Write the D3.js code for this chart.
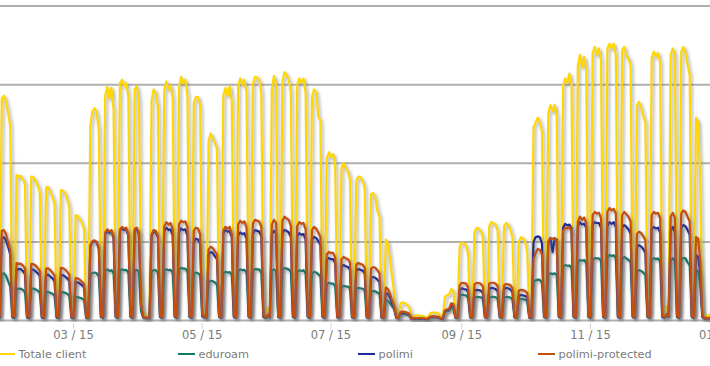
<!DOCTYPE html>
<html><head><meta charset="utf-8">
<script src="https://cdn.jsdelivr.net/npm/d3@7"></script>
<style>
html,body{margin:0;padding:0;background:#fff;}
svg{display:block;}
</style></head>
<body>
<svg id="chart" width="710" height="366"></svg>
<script>
// Daily values, one row per week (Mon..Sun), first Monday = 2015-01-19
const firstDay = "2015-01-19";
const seriesNames = ["Totale client", "eduroam", "polimi", "polimi-protected"];
const seriesColors = ["#FFD700", "#0C7B6C", "#1B2C9C", "#C4500E"];
const yTicks = [0, 5000, 10000, 15000, 20000];

const totale = [
14000,14300,14200,13600,12800,500,400,
14100,14300,13900,13200,12400,500,400,
9250,9150,9200,9000,8700,450,350,
9150,9100,8900,8600,8200,450,350,
8450,8500,8150,7900,7400,450,350,
8300,8250,8100,7700,7200,400,350,
6700,6650,6450,6200,5800,400,350,
12400,13300,13500,13200,12100,600,400,
14300,14850,14100,14800,13400,600,400,
15100,15300,14900,15100,14200,600,400,
14700,14900,14000,2500,600,400,300,
350,14000,14700,14400,13600,600,400,
14600,15200,14700,14950,14200,600,400,
14800,15500,15100,15300,14300,500,400,
13800,14200,14200,13700,800,400,350,
11400,11900,11600,11300,10900,500,400,
14300,14800,14300,14900,14000,600,400,
14900,15400,15000,15300,14500,600,400,
15000,15500,15450,15300,14500,600,400,
800,500,14700,15550,15000,600,400,
15200,15800,15600,15300,14500,600,400,
15000,15400,15100,15400,14500,600,400,
14200,14700,14500,13000,12700,500,400,
10300,10700,10400,10600,9900,500,350,
9700,10000,9700,9500,9000,500,350,
8900,9150,9100,8900,8400,450,350,
8050,8100,7800,7000,6600,400,300,
5150,4900,3900,2700,1700,400,300,
1100,1150,1100,1000,900,300,250,
320,330,300,290,260,200,200,
450,500,500,480,450,250,230,
1500,1600,1650,2000,1900,450,350,
4700,4950,4900,4800,4200,500,400,
5600,5880,5850,5700,5300,500,400,
6000,6250,6200,6100,5700,500,400,
6000,6200,6100,5800,5300,500,400,
5000,5300,5250,5000,4400,500,400,
12300,12600,12900,12600,12000,600,400,
13200,13700,13300,13700,13000,600,400,
14900,15400,15100,15700,15000,600,400,
16200,16900,16100,16750,16000,600,400,
17000,17400,16900,17300,16500,600,400,
17300,17600,17300,17600,16900,600,400,
17200,17400,16800,16700,16200,600,400,
13700,13900,13500,13000,12600,600,400,
16700,17100,16800,17000,16400,600,400,
900,700,16900,17300,16800,600,400,
17100,17400,17000,16300,15600,600,400,
12900,12600,9000,600,300,300,300,
450,500,450,350,250,200,200];

const eduroam = [
3000,3050,3000,2900,2700,200,150,
2950,3000,2850,2500,2150,200,150,
2050,2000,2030,1950,1800,180,140,
2050,2030,1980,1900,1780,180,140,
1800,1820,1760,1700,1580,180,140,
1820,1800,1760,1700,1580,170,130,
1500,1490,1450,1400,1300,170,130,
2900,3020,3050,3000,2800,220,150,
3150,3250,3150,3200,3000,220,150,
3200,3250,3200,3220,3050,220,150,
3200,3220,3100,600,180,150,130,
140,3100,3200,3200,3050,220,150,
3200,3250,3200,3220,3050,220,150,
3250,3350,3300,3300,3100,220,150,
2950,3050,3000,2900,250,180,150,
2450,2520,2500,2420,2300,220,150,
3000,3090,3050,3080,2900,220,150,
3150,3250,3200,3220,3050,220,150,
3150,3280,3250,3250,3050,220,150,
250,190,3150,3250,3150,220,150,
3200,3340,3300,3250,3100,220,150,
3100,3200,3150,3200,3000,220,150,
3000,3090,3050,2950,2800,220,150,
2300,2390,2350,2350,2200,200,150,
2130,2200,2170,2150,2050,200,150,
2000,2070,2050,2020,1920,200,150,
1820,1880,1850,1780,1700,180,140,
1300,1250,1100,900,700,160,130,
400,420,400,370,340,120,100,
110,110,100,100,90,80,80,
190,200,200,190,180,100,90,
550,600,620,800,780,180,140,
1550,1650,1620,1600,1450,200,160,
1450,1500,1490,1480,1380,200,160,
1450,1500,1500,1480,1380,200,160,
1450,1500,1490,1460,1350,200,160,
1330,1370,1360,1330,1250,190,150,
2450,2550,2600,2580,2400,220,150,
2900,3000,2950,3000,2900,220,150,
3400,3530,3480,3500,3350,220,150,
3700,3850,3800,3850,3650,220,150,
3850,3970,3950,3950,3800,220,150,
4000,4170,4100,4150,3950,220,150,
3900,4040,3950,3850,3700,220,150,
3100,3210,3150,3050,2900,220,150,
3850,3970,3900,3950,3750,220,150,
300,220,3800,3970,3750,220,150,
3850,3980,3950,3700,3500,220,150,
3200,3150,2300,220,120,120,120,
150,160,150,130,100,90,90];

const polimi = [
5300,5400,5300,5100,4800,250,200,
5250,5300,5100,4700,4200,250,200,
3300,3250,3280,3150,2950,230,180,
3250,3230,3150,3000,2850,230,180,
2900,2920,2800,2680,2500,230,180,
2900,2880,2800,2680,2500,220,170,
2450,2430,2350,2250,2100,220,170,
4750,5000,5050,4950,4550,260,190,
5500,5700,5550,5700,5200,260,190,
5700,5850,5750,5800,5400,260,190,
5700,5800,5500,950,220,180,150,
170,5400,5650,5600,5300,260,190,
5700,5900,5750,5800,5400,260,190,
5600,5850,5750,5800,5400,260,190,
5000,5200,5150,4900,350,220,180,
4200,4350,4300,4100,3900,260,190,
5550,5750,5650,5700,5300,260,190,
5400,5600,5500,5550,5200,260,190,
5500,5750,5700,5650,5350,260,190,
300,220,5500,5700,5550,260,190,
5550,5760,5700,5600,5300,260,190,
5350,5560,5450,5500,5150,260,190,
5150,5310,5250,5050,4800,260,190,
3850,3975,3900,3900,3650,220,180,
3400,3530,3450,3400,3250,220,180,
3150,3275,3220,3180,3000,220,180,
2700,2770,2720,2600,2450,200,160,
1750,1700,1450,1100,800,180,140,
480,490,480,430,400,130,110,
130,130,120,120,110,90,90,
220,230,230,220,210,120,110,
600,650,700,950,900,200,160,
1900,2050,2000,1980,1800,220,180,
1880,1950,1930,1900,1750,220,180,
2000,2070,2050,2000,1850,220,180,
2000,2070,2050,1980,1800,220,180,
1580,1620,1600,1560,1450,200,170,
5000,5300,5350,5300,4900,260,190,
5000,5250,4350,5200,5150,260,190,
5900,6150,6050,6100,5850,260,190,
6000,6250,6100,6150,5900,260,190,
6100,6250,6200,6200,5900,260,190,
6000,6250,6150,6250,5950,260,190,
5900,6070,5950,5800,5500,260,190,
4650,4800,4700,4550,4300,260,190,
5800,5950,5850,5900,5600,260,190,
350,260,5700,5950,5600,260,190,
5900,6070,6000,5750,5450,260,190,
4170,4050,3000,250,130,130,130,
170,190,170,150,110,100,100];

const polimiProtected = [
5700,5800,5700,5500,5100,300,250,
5700,5750,5500,5000,4500,300,250,
3650,3600,3620,3500,3300,280,220,
3600,3580,3500,3350,3150,280,220,
3300,3320,3200,3050,2850,280,220,
3350,3320,3250,3100,2900,250,200,
2700,2680,2600,2450,2300,250,200,
4800,5050,5100,5000,4600,300,220,
5600,5800,5650,5750,5300,300,220,
5800,5950,5850,5900,5500,300,220,
5850,5900,5600,1000,250,200,180,
200,5500,5750,5700,5400,300,220,
6000,6250,6100,6200,5800,300,220,
6100,6350,6250,6300,5900,300,220,
5700,5900,5850,5500,400,250,200,
4500,4700,4600,4400,4200,300,220,
5750,5950,5850,5950,5500,300,220,
6100,6350,6200,6300,5900,300,220,
6150,6400,6350,6300,5950,300,220,
350,250,6100,6400,6200,300,220,
6350,6600,6500,6400,6000,300,220,
6000,6250,6150,6200,5800,300,220,
5750,5950,5850,5600,5300,300,220,
4200,4360,4300,4300,4000,250,200,
3900,4040,3950,3900,3700,250,200,
3550,3660,3600,3550,3350,250,200,
3300,3400,3350,3200,3000,220,180,
2100,2000,1700,1300,900,200,160,
550,560,550,500,450,150,130,
160,160,150,150,140,110,110,
250,260,260,250,240,140,130,
650,700,750,1100,1050,220,180,
2250,2400,2380,2350,2100,250,200,
2300,2400,2380,2350,2150,250,200,
2350,2400,2400,2350,2200,250,200,
2250,2320,2300,2250,2050,250,200,
1900,1950,1930,1880,1750,230,190,
3900,4300,4550,4500,4200,300,220,
5000,5250,5200,5250,5050,300,220,
5700,5900,5850,5950,5700,300,220,
6300,6600,6400,6550,6200,300,220,
6700,6900,6800,6850,6500,300,220,
6900,7150,7000,7100,6800,300,220,
6700,6900,6750,6600,6300,300,220,
5500,5650,5550,5350,5100,300,220,
6700,6900,6800,6850,6500,300,220,
400,300,6600,6850,6500,300,220,
6800,7000,6900,6600,6300,300,220,
5300,5200,3800,300,150,150,150,
200,220,200,170,130,120,120];

const allSeries = [totale, eduroam, polimi, polimiProtected];

const W = 710, H = 366;
const svg = d3.select("#chart");
const plotTop = 6, plotBottom = 320.5;

// x scale anchored on the month ticks
const base = d3.scaleTime()
  .domain([new Date(2015, 2, 1), new Date(2015, 10, 1)])
  .range([73.5, 590.5]);
const x = d3.scaleTime().domain([base.invert(0), base.invert(760)]).range([0, 760]);
const y = d3.scaleLinear().domain([0, 20000]).range([plotBottom, plotTop]);

const parse = d3.timeParse("%Y-%m-%d");
const start = parse(firstDay);
const dates = totale.map((_, i) => d3.timeDay.offset(start, i));

const defs = svg.append("defs");
defs.append("clipPath").attr("id", "clip")
  .append("rect").attr("x", 0).attr("y", 0).attr("width", W).attr("height", 322);
const f = defs.append("filter").attr("id", "shadow")
  .attr("x", "-5%").attr("y", "-5%").attr("width", "110%").attr("height", "110%");
f.append("feDropShadow").attr("dx", 1.8).attr("dy", 1.8)
  .attr("stdDeviation", 1.5).attr("flood-color", "#707070").attr("flood-opacity", 0.6);

// grid
svg.append("g").selectAll("line").data(yTicks).join("line")
  .attr("x1", 0).attr("x2", W)
  .attr("y1", d => y(d)).attr("y2", d => y(d))
  .attr("stroke", "#b0b0b0").attr("stroke-width", 2);

// x axis ticks/labels
const xTicks = d3.timeMonth.every(2).range(base.invert(0), base.invert(760));
const fmt = d3.timeFormat("%m / %y");
const ax = svg.append("g");
ax.selectAll("line").data(xTicks).join("line")
  .attr("x1", d => x(d)).attr("x2", d => x(d))
  .attr("y1", 323).attr("y2", 329)
  .attr("stroke", "#d0d0dc").attr("stroke-width", 1);
ax.selectAll("text").data(xTicks).join("text")
  .attr("x", d => x(d)).attr("y", 338.5)
  .attr("text-anchor", "middle")
  .attr("font-family", "DejaVu Sans, Verdana, sans-serif")
  .attr("font-size", "11.5px").attr("fill", "#7a7a7a")
  .text(d => fmt(d));

// lines
const line = d3.line()
  .x((d, i) => x(dates[i]))
  .y(d => y(d));
const lg = svg.append("g").attr("clip-path", "url(#clip)");
allSeries.forEach((s, k) => {
  lg.append("path")
    .attr("d", line(s))
    .attr("fill", "none")
    .attr("stroke", seriesColors[k])
    .attr("stroke-width", 2.2)
    .attr("stroke-linejoin", "round")
    .attr("filter", "url(#shadow)");
});

// legend
const leg = svg.append("g").selectAll("g").data(seriesNames).join("g")
  .attr("transform", (d, i) => `translate(${180 * i},0)`);
leg.append("line").attr("x1", -2).attr("x2", 15).attr("y1", 354).attr("y2", 354)
  .attr("stroke", (d, i) => seriesColors[i]).attr("stroke-width", 2);
leg.append("text").attr("x", 18.5).attr("y", 358)
  .attr("font-family", "DejaVu Sans, Verdana, sans-serif")
  .attr("font-size", "11.3px").attr("fill", "#7a7a7a")
  .text(d => d);
</script>
</body></html>
